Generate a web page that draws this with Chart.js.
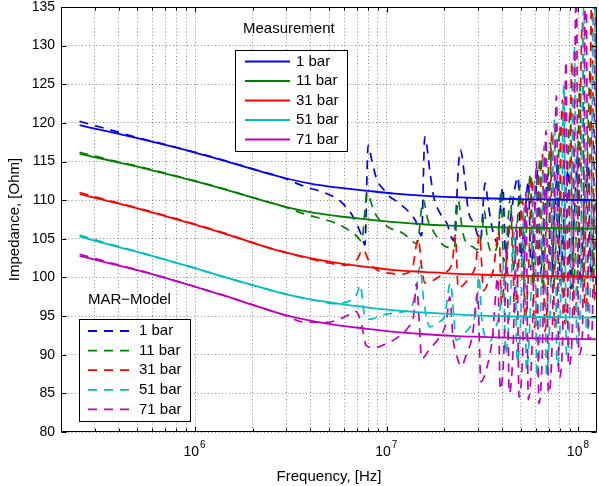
<!DOCTYPE html>
<html>
<head>
<meta charset="utf-8">
<script src="https://cdn.jsdelivr.net/npm/chart.js@4.4.0/dist/chart.umd.min.js"></script>
<style>
    html, body { margin: 0; padding: 0; background: #fff; }
    canvas { display: block; }
</style>
</head>
<body>
<canvas id="impedance-chart" width="599" height="486"></canvas>
<script>
const FONT_FAMILY = "'Liberation Sans', Arial, Helvetica, sans-serif";
const MHZ = 1e6;

// Pressure steps and their line colours
const seriesLabels = ["1 bar", "11 bar", "31 bar", "51 bar", "71 bar"];
const seriesColors = ["#0000ff", "#008000", "#ff0000", "#00bfbf", "#bf00bf"];

// Axis ticks
const yTicks = [80, 85, 90, 95, 100, 105, 110, 115, 120, 125, 130, 135];
const xDecades = [6, 7, 8];

// Measurement: smooth impedance curves, frequencies in MHz
const measFreq = [0.25, 0.35, 0.5, 0.7, 1, 1.4, 2, 2.8, 4, 5.6, 8, 11, 16, 22, 32, 45, 64, 90, 125];
const meas1 = [119.7, 118.9, 118.03, 117.15, 116.16, 115.15, 114.02, 113.0, 112.15, 111.62, 111.2, 110.85, 110.55, 110.4, 110.25, 110.15, 110.1, 110.05, 110.0];
const meas11 = [116.0, 115.2, 114.33, 113.45, 112.46, 111.45, 110.32, 109.3, 108.45, 107.92, 107.5, 107.15, 106.85, 106.7, 106.55, 106.45, 106.4, 106.35, 106.3];
const meas31 = [110.8, 109.9, 108.95, 107.95, 106.85, 105.75, 104.5, 103.4, 102.5, 101.85, 101.35, 100.95, 100.7, 100.5, 100.35, 100.25, 100.2, 100.15, 100.1];
const meas51 = [105.3, 104.3, 103.3, 102.3, 101.2, 100.1, 99.0, 98.0, 97.15, 96.6, 96.1, 95.75, 95.45, 95.25, 95.05, 94.95, 94.88, 94.83, 94.8];
const meas71 = [102.8, 101.9, 100.95, 99.95, 98.8, 97.7, 96.45, 95.3, 94.4, 93.8, 93.35, 92.95, 92.65, 92.45, 92.3, 92.18, 92.1, 92.05, 92.0];

// MAR model: each pressure has its own frequency list (MHz)
const model1Freq = [0.25, 0.35, 0.5, 0.7, 1, 1.4, 2, 2.8,
    3.8, 4.7, 5.7, 6.7, 7.4, 7.7, 8.0, 8.4, 8.9, 9.7, 10.2, 11.2, 12.8, 14.1, 15.2, 15.8, 16.9, 17.6, 19.0, 20.6,
    22.3, 24.2, 25.7, 26.6, 28.5, 30.8, 32.6, 33.8, 35.4, 37.5,
    40.4, 41.6, 43.6, 48.5, 50.0, 52.2, 54.9, 56.5, 59.0, 61.5, 63.4, 66.2, 69.8, 71.9, 75.0, 78.2, 80.6, 84.2,
    88.6, 91.2, 95.2, 99.4, 102.4, 106.8, 112.6, 116.0, 121.0, 125];
const model1 = [120.2, 119.2, 118.1, 117.2, 116.2, 115.2, 114.05, 113.0,
    111.7, 111.0, 109.9, 107.8, 105.4, 104.2, 117.1, 114.9, 112.6, 111.3, 110.6, 109.9, 108.7, 107.4, 105.4, 118.2, 113.2, 110.4, 108.3, 107.0,
    104.8, 116.5, 112.2, 108.7, 107.0, 104.8, 112.2, 109.6, 106.5, 104.6,
    111.7, 103.0, 106.5, 113.0, 102.5, 107.0, 112.5, 101.0, 107.5, 114.0, 100.5, 107.5, 113.5, 99.5, 108.0, 115.0, 99.0, 108.0,
    114.0, 98.5, 108.0, 116.0, 99.0, 108.5, 115.0, 100.0, 108.0, 111.0];

const model11Freq = [0.25, 0.35, 0.5, 0.7, 1, 1.4, 2, 2.8,
    3.85, 4.9, 6.0, 7.0, 7.4, 7.9, 8.55, 9.0, 10.2, 12.2, 14.4, 15.5, 16.4, 17.6, 19.7, 22.5, 23.6, 24.8,
    26.5, 28.0, 29.5, 31.5, 32.3, 33.5, 35.5, 38.0,
    39.5, 40.7, 42.4, 44.3, 45.6, 47.6, 49.6, 51.1, 53.3, 56.3, 58.0, 60.5, 63.0, 64.9, 67.7,
    71.4, 73.5, 76.8, 80.0, 82.4, 86.0, 90.8, 93.5, 97.6, 101.8, 104.9, 109.4, 115.3, 118.8, 124.0];
const model11 = [116.2, 115.3, 114.4, 113.5, 112.5, 111.5, 110.35, 109.3,
    108.1, 107.4, 106.5, 105.3, 104.7, 110.9, 108.7, 107.7, 106.5, 105.7, 104.4, 110.0, 107.4, 105.9, 104.2, 103.8, 110.0, 106.1,
    104.2, 104.0, 103.6, 106.0, 108.7, 105.0, 103.2, 104.5,
    111.3, 102.0, 105.5, 110.5, 101.0, 105.5, 112.0, 100.0, 105.5, 113.5, 99.0, 105.5, 115.5, 98.5, 106.0,
    117.5, 98.0, 106.0, 119.5, 98.0, 106.5, 122.0, 98.5, 106.5, 125.0, 99.5, 107.0, 127.0, 100.5, 107.0];

const model31Freq = [0.25, 0.35, 0.5, 0.7, 1, 1.4, 2, 2.8,
    4.7, 6.0, 7.0, 7.5, 8.2, 9.0, 10.8, 11.5, 13.5, 14.6, 15.2, 15.8, 16.8, 18.0, 20.0, 22.0, 22.8, 23.6,
    25.0, 27.0, 29.0, 30.5, 32.0, 34.0, 36.0,
    38.5, 39.7, 41.4, 45.0, 46.4, 48.4, 51.1, 52.6, 54.9, 57.2, 58.9, 61.5, 64.9, 66.8, 69.8,
    72.8, 75.0, 78.3, 82.6, 85.1, 88.8, 92.5, 95.3, 99.4, 104.8, 107.9, 112.7, 117.6, 121.1, 125];
const model31 = [111.0, 110.0, 109.0, 108.0, 106.9, 105.8, 104.5, 103.4,
    102.0, 101.6, 102.3, 103.6, 101.8, 100.9, 100.5, 100.4, 100.9, 105.0, 101.5, 99.3, 99.4, 99.8, 100.6, 102.0, 105.5, 98.6,
    99.0, 100.0, 101.5, 105.5, 98.3, 99.5, 101.0,
    106.0, 96.5, 100.5, 108.0, 95.5, 100.5, 110.0, 94.5, 100.5, 113.0, 93.5, 100.5, 116.0, 93.0, 100.5,
    119.0, 93.5, 101.0, 123.0, 94.0, 101.0, 128.0, 95.0, 101.5, 133.0, 96.0, 102.0, 138.0, 97.0, 103.0];

const model51Freq = [0.25, 0.35, 0.5, 0.7, 1, 1.4, 2, 2.8,
    4.5, 5.3, 6.3, 6.9, 7.3, 7.5, 7.7, 8.3, 9.3, 11.0, 12.5, 13.2, 14.3, 14.9, 15.6, 16.8, 18.5, 20.0,
    21.5, 22.3, 23.0, 25.5, 27.5, 29.5, 30.2, 31.5, 34.5, 37.0, 39.0,
    40.5, 41.7, 43.5, 46.5, 47.9, 50.0, 52.0, 53.6, 55.9, 59.0, 60.8, 63.4, 66.1, 68.1, 71.1,
    75.0, 77.3, 80.6, 84.0, 86.5, 90.3, 95.2, 98.1, 102.3, 106.8, 110.0, 114.8, 121.0, 124.6];
const model51 = [105.5, 104.4, 103.35, 102.3, 101.2, 100.1, 99.0, 98.0,
    96.9, 96.6, 96.9, 97.6, 99.0, 96.7, 94.8, 94.6, 95.1, 95.4, 95.6, 95.8, 98.5, 101.4, 97.0, 93.6, 94.2, 94.9,
    99.3, 95.5, 91.9, 92.8, 93.8, 96.5, 100.2, 94.0, 91.8, 93.5, 96.0,
    102.0, 90.0, 94.5, 106.0, 89.0, 94.5, 109.0, 88.0, 94.5, 112.5, 87.0, 95.0, 117.0, 87.5, 95.0,
    120.5, 88.5, 95.5, 125.0, 90.0, 95.5, 130.0, 91.5, 96.0, 136.0, 93.0, 96.5, 140.0, 100.0];

const model71Freq = [0.25, 0.35, 0.5, 0.7, 1, 1.4, 2, 2.8,
    3.8, 4.9, 5.8, 6.5, 6.9, 7.3, 7.6, 7.8, 8.6, 9.9, 11.8, 13.0, 13.8, 14.3, 14.8, 15.2, 16.8, 18.5,
    20.5, 21.3, 22.2, 23.0, 24.5, 26.0, 28.0, 29.8, 31.0, 33.0, 35.5,
    38.0, 39.1, 40.8, 42.3, 43.6, 45.5, 47.6, 49.0, 51.2, 53.2, 54.8, 57.2, 60.4, 62.2, 64.9,
    67.7, 69.7, 72.8, 76.8, 79.1, 82.6, 86.1, 88.7, 92.6, 97.5, 100.4, 104.8, 109.4, 112.7, 117.6, 123.5];
const model71 = [103.0, 102.0, 101.0, 99.95, 98.8, 97.7, 96.45, 95.3,
    94.2, 94.2, 94.7, 95.3, 95.6, 94.4, 92.5, 91.2, 90.9, 91.4, 92.5, 93.6, 95.0, 99.2, 94.0, 89.5, 90.8, 92.0,
    94.4, 97.5, 92.0, 90.2, 88.5, 90.0, 92.5, 98.0, 86.5, 88.0, 92.0,
    100.0, 85.5, 90.0, 104.0, 85.0, 90.0, 107.0, 84.5, 90.5, 111.0, 84.2, 90.5, 115.0, 83.7, 91.0,
    119.0, 85.0, 91.0, 123.5, 87.0, 91.5, 128.0, 88.5, 92.0, 138.0, 90.0, 92.5, 142.0, 92.0, 93.0, 142.0];

const measSeries = [meas1, meas11, meas31, meas51, meas71];
const modelSeries = [
    [model1Freq, model1],
    [model11Freq, model11],
    [model31Freq, model31],
    [model51Freq, model51],
    [model71Freq, model71],
];

const toPoints = (freqs, vals) => freqs.map((f, i) => ({ x: f * MHZ, y: vals[i] }));

const datasets = [];
measSeries.forEach((vals, i) => {
    datasets.push({
        label: seriesLabels[i],
        group: "meas",
        data: toPoints(measFreq, vals),
        borderColor: seriesColors[i],
        borderWidth: 1.8,
        pointRadius: 0,
        cubicInterpolationMode: "monotone",
        order: 0,
    });
});
modelSeries.forEach(([freqs, vals], i) => {
    datasets.push({
        label: seriesLabels[i],
        group: "model",
        data: toPoints(freqs, vals),
        borderColor: seriesColors[i],
        borderWidth: 1.7,
        borderDash: [9, 7],
        pointRadius: 0,
        cubicInterpolationMode: "monotone",
        order: 5 - i, // 71 bar on top of the dashed ones
    });
});

// grid positions on the log axis: 1..9 x each decade
const gridFreqs = [];
[1e5, 1e6, 1e7].forEach((d) => {
    for (let k = 1; k <= 9; k++) {
        const v = k * d;
        if (v >= 2e5 && v <= 1e8) gridFreqs.push(v);
    }
});
gridFreqs.push(1e8);

const GRID_COLOR = "rgba(0, 0, 0, 0.45)";

// keep the plot box where it is, labels may stick out past it
function noLabelPadding(scale) {
    scale.paddingTop = 0;
    scale.paddingBottom = 0;
    scale.paddingLeft = 0;
    scale.paddingRight = 0;
}

// box around the plot with inward tick marks
const axesFrame = {
    id: "axesFrame",
    afterDatasetsDraw(chart) {
        const { ctx, chartArea: a, scales } = chart;
        const L = Math.round(a.left) + 0.5, R = Math.round(a.right) - 0.5;
        const T = Math.round(a.top) + 0.5, B = Math.round(a.bottom) - 0.5;
        ctx.save();
        ctx.strokeStyle = "#000";
        ctx.lineWidth = 1;
        ctx.beginPath();
        yTicks.forEach((v) => {
            const y = Math.round(scales.y.getPixelForValue(v)) + 0.5;
            ctx.moveTo(L, y); ctx.lineTo(L + 5, y);
            ctx.moveTo(R, y); ctx.lineTo(R - 5, y);
        });
        gridFreqs.forEach((v) => {
            const x = Math.round(scales.x.getPixelForValue(v)) + 0.5;
            const len = xDecades.includes(Math.round(Math.log10(v) * 1000) / 1000) ? 5 : 3;
            ctx.moveTo(x, B); ctx.lineTo(x, B - len);
            ctx.moveTo(x, T); ctx.lineTo(x, T + len);
        });
        ctx.stroke();
        ctx.strokeRect(L, T, R - L, B - T);
        ctx.restore();
    },
    afterDraw(chart) {
        // decade labels 10^n with a raised exponent
        const { ctx, chartArea: a, scales } = chart;
        ctx.save();
        ctx.fillStyle = "#000";
        ctx.textBaseline = "alphabetic";
        xDecades.forEach((e) => {
            const x = scales.x.getPixelForValue(Math.pow(10, e));
            ctx.font = `14px ${FONT_FAMILY}`;
            ctx.textAlign = "right";
            ctx.fillText("10", x + 4, a.bottom + 23.5);
            ctx.font = `10px ${FONT_FAMILY}`;
            ctx.textAlign = "left";
            ctx.fillText(String(e), x + 5, a.bottom + 16);
        });
        ctx.restore();
    },
};

// two framed legends: solid lines for measurement, dashed for the model
function drawLegend(ctx, chart, group, o) {
    const sets = chart.data.datasets.filter((d) => d.group === group);
    ctx.save();
    ctx.font = `15px ${FONT_FAMILY}`;
    ctx.fillStyle = "#000";
    ctx.textBaseline = "middle";
    ctx.textAlign = "left";
    ctx.fillText(o.title, o.titleX, o.titleY);
    ctx.fillStyle = "#fff";
    ctx.fillRect(o.x, o.y, o.w, o.h);
    ctx.strokeStyle = "#000";
    ctx.lineWidth = 1;
    ctx.strokeRect(o.x + 0.5, o.y + 0.5, o.w - 1, o.h - 1);
    sets.forEach((ds, i) => {
        const y = o.rowY + i * o.rowStep;
        ctx.beginPath();
        ctx.strokeStyle = ds.borderColor;
        ctx.lineWidth = 1.8;
        ctx.setLineDash(ds.borderDash || []);
        ctx.moveTo(o.lineX0, y);
        ctx.lineTo(o.lineX1, y);
        ctx.stroke();
        ctx.setLineDash([]);
        ctx.fillStyle = "#000";
        ctx.fillText(ds.label, o.textX, y);
    });
    ctx.restore();
}

const legendBoxes = {
    id: "legendBoxes",
    afterDraw(chart) {
        const ctx = chart.ctx;
        drawLegend(ctx, chart, "meas", {
            title: "Measurement", titleX: 243, titleY: 29,
            x: 235, y: 50, w: 113, h: 102,
            rowY: 61.5, rowStep: 19.5, lineX0: 245, lineX1: 290, textX: 296,
        });
        drawLegend(ctx, chart, "model", {
            title: "MAR\u2212Model", titleX: 88, titleY: 300,
            x: 79, y: 319, w: 112, h: 103,
            rowY: 331, rowStep: 19.6, lineX0: 88, lineX1: 135, textX: 139,
        });
    },
};

new Chart(document.getElementById("impedance-chart").getContext("2d"), {
    type: "line",
    data: { datasets },
    options: {
        responsive: false,
        animation: false,
        devicePixelRatio: 1,
        layout: { padding: { top: 7, right: 2, bottom: 0, left: 0 } },
        plugins: {
            legend: { display: false },
            tooltip: { enabled: false },
        },
        scales: {
            x: {
                type: "logarithmic",
                min: 2e5,
                max: 1.25e8,
                afterBuildTicks: (scale) => {
                    scale.ticks = gridFreqs.map((v) => ({ value: v }));
                },
                afterFit: (scale) => {
                    scale.height = 54;
                    noLabelPadding(scale);
                },
                ticks: { autoSkip: false, maxRotation: 0, callback: () => "" },
                grid: { color: GRID_COLOR, lineWidth: 1, drawTicks: false },
                border: { display: false, dash: [1, 2.5] },
                title: {
                    display: true,
                    text: "Frequency, [Hz]",
                    color: "#000",
                    font: { family: FONT_FAMILY, size: 15 },
                    padding: { top: 7, bottom: 0 },
                },
            },
            y: {
                min: 80,
                max: 135,
                afterBuildTicks: (scale) => {
                    scale.ticks = yTicks.map((v) => ({ value: v }));
                },
                afterFit: (scale) => {
                    scale.width = 61;
                    noLabelPadding(scale);
                },
                ticks: {
                    color: "#000",
                    padding: 6,
                    font: { family: FONT_FAMILY, size: 14 },
                },
                grid: { color: GRID_COLOR, lineWidth: 1, drawTicks: false },
                border: { display: false, dash: [1, 2.5] },
                title: {
                    display: true,
                    text: "Impedance, [Ohm]",
                    color: "#000",
                    font: { family: FONT_FAMILY, size: 15 },
                    padding: { top: 6, bottom: 0 },
                },
            },
        },
    },
    plugins: [axesFrame, legendBoxes],
});
</script>
</body>
</html>
